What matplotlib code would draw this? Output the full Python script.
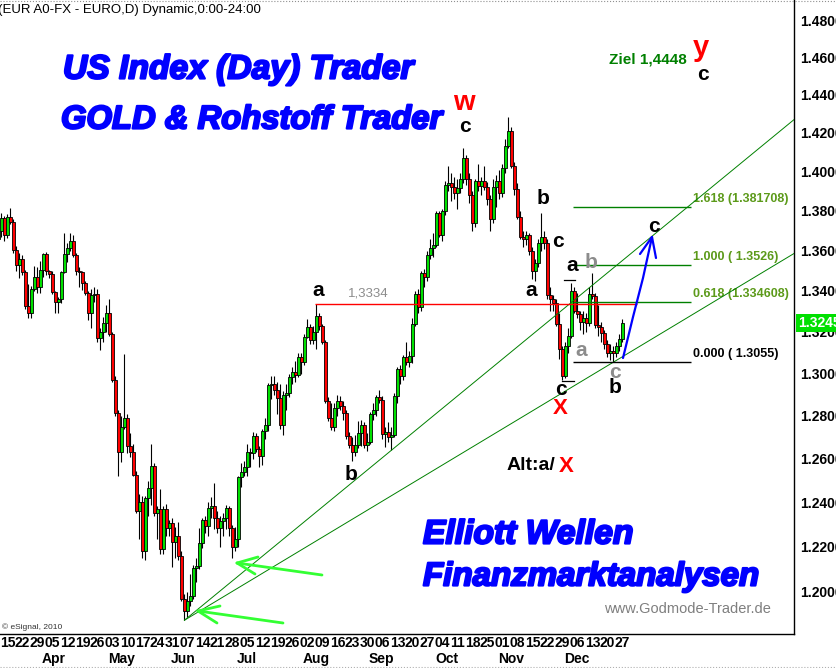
import numpy as np
import pandas as pd
import matplotlib
matplotlib.use("Agg")
from matplotlib import pyplot as plt
from matplotlib.lines import Line2D
from matplotlib.ticker import FixedLocator, FuncFormatter, NullLocator, NullFormatter
import matplotlib.transforms as mtransforms
import matplotlib.patheffects as pe

plt.rcParams["font.family"] = ["Liberation Sans", "DejaVu Sans"]

# EUR/USD Tageskerzen, 11.03. - 28.12.2010
dates = pd.bdate_range("2010-03-11", "2010-12-28")

opens = [
    1.3660, 1.3700, 1.3765, 1.3680, 1.3770, 1.3745, 1.3605, 1.3530, 1.3560, 1.3495,
    1.3325, 1.3290, 1.3410, 1.3470, 1.3420, 1.3505, 1.3585, 1.3500, 1.3485, 1.3395,
    1.3345, 1.3360, 1.3495, 1.3585, 1.3615, 1.3650, 1.3580, 1.3500, 1.3495, 1.3440,
    1.3390, 1.3290, 1.3380, 1.3385, 1.3170, 1.3200, 1.3245, 1.3290, 1.3190, 1.2970,
    1.2815, 1.2630, 1.2750, 1.2790, 1.2660, 1.2630, 1.2525, 1.2360, 1.2400, 1.2180,
    1.2420, 1.2465, 1.2565, 1.2350, 1.2370, 1.2190, 1.2370, 1.2285, 1.2305, 1.2220,
    1.2250, 1.2160, 1.1970, 1.1915, 1.1960, 1.1980, 1.2105, 1.2115, 1.2215, 1.2320,
    1.2295, 1.2375, 1.2385, 1.2330, 1.2285, 1.2315, 1.2330, 1.2375, 1.2285, 1.2200,
    1.2235, 1.2515, 1.2540, 1.2560, 1.2630, 1.2625, 1.2705, 1.2645, 1.2615, 1.2730,
    1.2755, 1.2945, 1.2950, 1.2920, 1.2885, 1.2755, 1.2900, 1.2910, 1.2985, 1.3010,
    1.2995, 1.3080, 1.3055, 1.3175, 1.3225, 1.3160, 1.3200, 1.3280, 1.3230, 1.3150,
    1.2870, 1.2790, 1.2750, 1.2835, 1.2870, 1.2845, 1.2815, 1.2705, 1.2665, 1.2630,
    1.2665, 1.2720, 1.2755, 1.2665, 1.2680, 1.2810, 1.2830, 1.2890, 1.2875, 1.2715,
    1.2725, 1.2700, 1.2710, 1.2895, 1.3020, 1.2990, 1.3080, 1.3055, 1.3085, 1.3240,
    1.3385, 1.3320, 1.3490, 1.3470, 1.3580, 1.3615, 1.3630, 1.3790, 1.3680, 1.3800,
    1.3930, 1.3940, 1.3920, 1.3890, 1.3915, 1.3960, 1.4070, 1.3960, 1.3880, 1.3740,
    1.3950, 1.3925, 1.3950, 1.3920, 1.3860, 1.3760, 1.3920, 1.3950, 1.3890, 1.4020,
    1.4130, 1.4210, 1.4030, 1.3910, 1.3770, 1.3670, 1.3660, 1.3680, 1.3600, 1.3500,
    1.3540, 1.3640, 1.3670, 1.3640, 1.3380, 1.3360, 1.3340, 1.3240, 1.3120, 1.2990,
    1.3130, 1.3180, 1.3400, 1.3300, 1.3285, 1.3250, 1.3270, 1.3245, 1.3385, 1.3375,
    1.3235, 1.3225, 1.3195, 1.3140, 1.3100, 1.3110, 1.3100, 1.3130, 1.3165,
]
highs = [
    1.3720, 1.3790, 1.3775, 1.3785, 1.3815, 1.3760, 1.3625, 1.3590, 1.3580, 1.3505,
    1.3435, 1.3425, 1.3525, 1.3520, 1.3550, 1.3590, 1.3595, 1.3505, 1.3500, 1.3400,
    1.3370, 1.3500, 1.3690, 1.3640, 1.3690, 1.3680, 1.3590, 1.3520, 1.3500, 1.3450,
    1.3400, 1.3410, 1.3420, 1.3410, 1.3220, 1.3275, 1.3330, 1.3360, 1.3200, 1.2990,
    1.2830, 1.2800, 1.3095, 1.2810, 1.2720, 1.2670, 1.2545, 1.2440, 1.2430, 1.2430,
    1.2500, 1.2670, 1.2580, 1.2385, 1.2460, 1.2385, 1.2395, 1.2320, 1.2330, 1.2290,
    1.2310, 1.2180, 1.1990, 1.2000, 1.2080, 1.2120, 1.2150, 1.2285, 1.2330, 1.2340,
    1.2400, 1.2425, 1.2487, 1.2360, 1.2340, 1.2350, 1.2390, 1.2385, 1.2300, 1.2290,
    1.2520, 1.2580, 1.2590, 1.2670, 1.2650, 1.2725, 1.2720, 1.2660, 1.2740, 1.2790,
    1.2955, 1.2990, 1.2990, 1.2960, 1.2950, 1.2915, 1.2950, 1.3000, 1.3030, 1.3060,
    1.3100, 1.3100, 1.3190, 1.3265, 1.3240, 1.3230, 1.3334, 1.3290, 1.3240, 1.3160,
    1.2890, 1.2860, 1.2860, 1.2900, 1.2895, 1.2870, 1.2830, 1.2725, 1.2700, 1.2710,
    1.2775, 1.2780, 1.2770, 1.2720, 1.2820, 1.2860, 1.2900, 1.2920, 1.2895, 1.2750,
    1.2770, 1.2750, 1.2910, 1.3030, 1.3040, 1.3090, 1.3150, 1.3110, 1.3270, 1.3400,
    1.3410, 1.3500, 1.3510, 1.3600, 1.3660, 1.3690, 1.3800, 1.3800, 1.3810, 1.3950,
    1.4030, 1.3990, 1.3970, 1.3960, 1.3990, 1.4120, 1.4085, 1.3990, 1.3900, 1.3960,
    1.4040, 1.3970, 1.4030, 1.3945, 1.3880, 1.3960, 1.3980, 1.4010, 1.4040, 1.4170,
    1.4282, 1.4230, 1.4050, 1.3940, 1.3800, 1.3700, 1.3700, 1.3690, 1.3620, 1.3560,
    1.3660, 1.3790, 1.3700, 1.3660, 1.3420, 1.3380, 1.3360, 1.3290, 1.3130, 1.3150,
    1.3220, 1.3440, 1.3420, 1.3390, 1.3300, 1.3300, 1.3290, 1.3420, 1.3490, 1.3390,
    1.3330, 1.3250, 1.3210, 1.3160, 1.3140, 1.3130, 1.3150, 1.3190, 1.3265,
]
lows = [
    1.3640, 1.3670, 1.3650, 1.3665, 1.3735, 1.3590, 1.3500, 1.3465, 1.3480, 1.3310,
    1.3270, 1.3270, 1.3400, 1.3390, 1.3390, 1.3470, 1.3480, 1.3465, 1.3385, 1.3290,
    1.3290, 1.3340, 1.3490, 1.3545, 1.3600, 1.3570, 1.3480, 1.3420, 1.3405, 1.3380,
    1.3260, 1.3220, 1.3345, 1.3150, 1.3115, 1.3150, 1.3200, 1.3180, 1.2960, 1.2800,
    1.2520, 1.2585, 1.2740, 1.2625, 1.2610, 1.2520, 1.2350, 1.2235, 1.2150, 1.2140,
    1.2340, 1.2390, 1.2340, 1.2235, 1.2170, 1.2170, 1.2250, 1.2250, 1.2110, 1.2150,
    1.2140, 1.1960, 1.1876, 1.1890, 1.1940, 1.1970, 1.2045, 1.2100, 1.2195, 1.2260,
    1.2250, 1.2330, 1.2280, 1.2260, 1.2200, 1.2250, 1.2280, 1.2250, 1.2150, 1.2180,
    1.2200, 1.2470, 1.2520, 1.2520, 1.2560, 1.2600, 1.2630, 1.2560, 1.2570, 1.2690,
    1.2730, 1.2880, 1.2900, 1.2810, 1.2740, 1.2710, 1.2830, 1.2890, 1.2950, 1.2960,
    1.2985, 1.3000, 1.3040, 1.3170, 1.3140, 1.3140, 1.3120, 1.3210, 1.3140, 1.2860,
    1.2775, 1.2735, 1.2730, 1.2800, 1.2830, 1.2780, 1.2690, 1.2650, 1.2590, 1.2615,
    1.2650, 1.2660, 1.2650, 1.2635, 1.2670, 1.2780, 1.2800, 1.2860, 1.2690, 1.2655,
    1.2680, 1.2640, 1.2700, 1.2860, 1.2950, 1.2970, 1.3040, 1.3030, 1.3050, 1.3230,
    1.3290, 1.3300, 1.3420, 1.3450, 1.3560, 1.3570, 1.3620, 1.3670, 1.3650, 1.3780,
    1.3900, 1.3850, 1.3860, 1.3810, 1.3890, 1.3940, 1.3930, 1.3840, 1.3700, 1.3720,
    1.3900, 1.3880, 1.3905, 1.3830, 1.3700, 1.3740, 1.3820, 1.3860, 1.3870, 1.3990,
    1.4120, 1.4020, 1.3880, 1.3760, 1.3660, 1.3620, 1.3630, 1.3580, 1.3460, 1.3450,
    1.3520, 1.3600, 1.3610, 1.3360, 1.3300, 1.3300, 1.3230, 1.3070, 1.2969, 1.2980,
    1.3100, 1.3170, 1.3290, 1.3270, 1.3210, 1.3190, 1.3200, 1.3230, 1.3360, 1.3220,
    1.3180, 1.3150, 1.3120, 1.3080, 1.3065, 1.3055, 1.3080, 1.3110, 1.3150,
]
closes = [
    1.3700, 1.3765, 1.3680, 1.3770, 1.3745, 1.3605, 1.3530, 1.3560, 1.3495, 1.3325,
    1.3290, 1.3410, 1.3470, 1.3420, 1.3505, 1.3585, 1.3500, 1.3485, 1.3395, 1.3345,
    1.3360, 1.3495, 1.3585, 1.3615, 1.3650, 1.3580, 1.3500, 1.3495, 1.3440, 1.3390,
    1.3290, 1.3380, 1.3385, 1.3170, 1.3200, 1.3245, 1.3290, 1.3190, 1.2970, 1.2815,
    1.2630, 1.2750, 1.2790, 1.2660, 1.2630, 1.2525, 1.2360, 1.2400, 1.2180, 1.2420,
    1.2465, 1.2565, 1.2350, 1.2370, 1.2190, 1.2370, 1.2285, 1.2305, 1.2220, 1.2250,
    1.2160, 1.1970, 1.1915, 1.1960, 1.1980, 1.2105, 1.2115, 1.2215, 1.2320, 1.2295,
    1.2375, 1.2385, 1.2330, 1.2285, 1.2315, 1.2330, 1.2375, 1.2285, 1.2200, 1.2235,
    1.2515, 1.2540, 1.2560, 1.2630, 1.2625, 1.2705, 1.2645, 1.2615, 1.2730, 1.2755,
    1.2945, 1.2950, 1.2920, 1.2885, 1.2755, 1.2900, 1.2910, 1.2985, 1.3010, 1.2995,
    1.3080, 1.3055, 1.3175, 1.3225, 1.3160, 1.3200, 1.3280, 1.3230, 1.3150, 1.2870,
    1.2790, 1.2750, 1.2835, 1.2870, 1.2845, 1.2815, 1.2705, 1.2665, 1.2630, 1.2665,
    1.2720, 1.2755, 1.2665, 1.2680, 1.2810, 1.2830, 1.2890, 1.2875, 1.2715, 1.2725,
    1.2700, 1.2710, 1.2895, 1.3020, 1.2990, 1.3080, 1.3055, 1.3085, 1.3240, 1.3385,
    1.3320, 1.3490, 1.3470, 1.3580, 1.3615, 1.3630, 1.3790, 1.3680, 1.3800, 1.3930,
    1.3940, 1.3920, 1.3890, 1.3915, 1.3960, 1.4070, 1.3960, 1.3880, 1.3740, 1.3950,
    1.3925, 1.3950, 1.3920, 1.3860, 1.3760, 1.3920, 1.3950, 1.3890, 1.4020, 1.4130,
    1.4210, 1.4030, 1.3910, 1.3770, 1.3670, 1.3660, 1.3680, 1.3600, 1.3500, 1.3540,
    1.3640, 1.3670, 1.3640, 1.3380, 1.3360, 1.3340, 1.3240, 1.3120, 1.2990, 1.3130,
    1.3180, 1.3400, 1.3300, 1.3285, 1.3250, 1.3270, 1.3245, 1.3385, 1.3375, 1.3235,
    1.3225, 1.3195, 1.3140, 1.3100, 1.3110, 1.3100, 1.3130, 1.3165, 1.3245,
]

price_ticks = [1.20, 1.22, 1.24, 1.26, 1.28, 1.30, 1.32, 1.34, 1.36, 1.38,
               1.40, 1.42, 1.44, 1.46, 1.48]
last_price = 1.3245
level_a = 1.3334
fib_levels = [1.381708, 1.3526, 1.334608, 1.3055]
fib_texts = ["1.618 (1.381708)", "1.000 ( 1.3526)", "0.618 (1.334608)", "0.000 ( 1.3055)"]
# zweiter Stuetzpunkt der beiden Trendlinien (ab Juni-Tief)
trend_anchor_dates = ["2010-09-10", "2010-12-23"]

W, H = 837, 668          # Bildgroesse in Pixel
AX_W, AX_H = 794, 634    # Chartbereich


def px(x, y):
    """Pixelposition im Chart -> Achsenkoordinaten"""
    return x / AX_W, 1 - y / AX_H


o = np.array(opens)
h = np.array(highs)
l = np.array(lows)
c = np.array(closes)
idx = np.arange(len(dates))

fig = plt.figure(figsize=(W / 100, H / 100), dpi=100)
ax = fig.add_axes([0, 1 - AX_H / H, AX_W / W, AX_H / H])
ax.set_yscale("log")
ax.set_ylim(1.1816, 1.4909)
ax.set_xlim(0.5, (AX_W + 1.5) / 3)

# Kerzen
up = c >= o
body_col = np.where(up, "#00e000", "#ff0000")
ax.vlines(idx, l, h, color="black", lw=0.8, zorder=2)
ax.bar(idx, np.maximum(np.abs(c - o), 0.0003), bottom=np.minimum(o, c), width=0.8,
       color=body_col, edgecolor="black", linewidth=0.6, zorder=3)

# Achsen
ax.yaxis.set_major_locator(FixedLocator(price_ticks))
ax.yaxis.set_major_formatter(FuncFormatter(lambda v, _: f"{v:.4f}"))
ax.yaxis.set_minor_locator(NullLocator())
ax.yaxis.set_minor_formatter(NullFormatter())
ax.yaxis.tick_right()
ax.tick_params(axis="y", length=0, pad=4.3, labelsize=10)
for lab in ax.get_yticklabels():
    lab.set_fontweight("bold")
ax.set_xticks([])
ax.spines["left"].set_visible(False)
ax.spines["top"].set_visible(False)
ax.spines["right"].set_linewidth(1.0)
ax.spines["bottom"].set_linewidth(1.0)

# Datumsachse
xt = ax.get_xaxis_transform()
prev_month = dates[0].month
for i, d in enumerate(dates):
    if d.dayofweek == 0:
        ax.text(i + 1, -0.0142, f"{d.day:02d}", transform=xt, ha="center", va="center",
                fontsize=10, fontweight="bold", clip_on=False)
    if d.month != prev_month:
        ax.text(i - 0.5, -0.0394, d.strftime("%b"), transform=xt, ha="left", va="center",
                fontsize=10, fontweight="bold", clip_on=False)
    prev_month = d.month

# letzter Kurs
yt = mtransforms.blended_transform_factory(ax.transAxes, ax.transData)
ax.text(1.005, last_price, f"{last_price:.4f}", transform=yt, ha="left", va="center",
        color="white", fontsize=10, fontweight="bold", zorder=10, clip_on=False,
        bbox=dict(boxstyle="square,pad=0.15", fc="#00e000", ec="none"))

# Trendlinien vom Juni-Tief
i0 = int(np.argmin(l))
x_end = ax.get_xlim()[1]
for d in trend_anchor_dates:
    i1 = dates.get_loc(pd.Timestamp(d))
    slope = (np.log(l[i1]) - np.log(l[i0])) / (i1 - i0)
    y_end = np.exp(np.log(l[i0]) + slope * (x_end - i0))
    ax.plot([i0, x_end], [l[i0], y_end], color="#008000", lw=0.7, zorder=4)

# 1,3334 Linie
ax.hlines(level_a, 105.5, 212.8, color="#ff0000", lw=1.0, zorder=4)
ax.text(*px(368, 293), "1,3334", transform=ax.transAxes, ha="center", va="center",
        color="#8c8c8c", fontsize=9.5)

# Fibonacci
for lev, txt in zip(fib_levels, fib_texts):
    col = "black" if lev == fib_levels[-1] else "#008000"
    tcol = "black" if lev == fib_levels[-1] else "#5c9a1a"
    ax.hlines(lev, 191.5, 230.8, color=col, lw=1.0, zorder=4)
    ax.annotate(txt, (231.6, lev), xytext=(0, 6), textcoords="offset points",
                ha="left", va="center", color=tcol, fontsize=9, fontweight="bold")

# Markierungen Hoch/Tief
ax.plot([188.5, 192.2], [1.3454, 1.3454], color="black", lw=0.9, zorder=4)
ax.plot([187.9, 191.8], [1.2965, 1.2965], color="black", lw=0.9, zorder=4)

# Pfeile
def arrow(points, arms, color, lw):
    xs, ys = zip(*[px(*p) for p in points])
    ax.plot(xs, ys, color=color, lw=lw, transform=ax.transAxes, zorder=6,
            solid_capstyle="round")
    tip = points[-1]
    for a in arms:
        xs, ys = zip(px(*tip), px(*a))
        ax.plot(xs, ys, color=color, lw=lw, transform=ax.transAxes, zorder=6,
                solid_capstyle="round")

arrow([(283, 623), (198, 611)], [(220, 606), (217, 623)], "#33ff33", 2.0)
arrow([(322, 575), (237, 563)], [(258, 557), (255, 574)], "#33ff33", 2.0)
arrow([(623, 358), (633, 317), (643, 278), (652, 237)], [(640, 254), (656, 258)], "#0000ff", 1.6)

# Wellenbeschriftung
gray = "#8c8c8c"
labels = [
    ("a", 318, 290, "black", 15), ("b", 351, 475, "black", 15),
    ("w", 464, 103, "#ff0000", 20), ("c", 465, 127, "black", 15),
    ("y", 701, 48, "#ff0000", 21), ("c", 703, 75, "black", 15),
    ("b", 543, 198, "black", 15), ("c", 558, 241, "black", 15),
    ("a", 572, 265, "black", 15), ("b", 591, 262, gray, 15),
    ("a", 531, 290, "black", 15), ("a", 581, 350, gray, 15),
    ("c", 561, 390, "black", 15), ("X", 560, 409, "#ff0000", 16),
    ("c", 615, 372, gray, 15), ("b", 615, 388, "black", 15),
    ("c", 654, 227, "black", 15), ("X", 566, 466, "#ff0000", 16),
]
for t, x, y, col, fs in labels:
    ax.text(*px(x, y), t, transform=ax.transAxes, ha="center", va="center",
            color=col, fontsize=fs, fontweight="bold", zorder=7)
ax.text(*px(555, 466), "Alt:a/", transform=ax.transAxes, ha="right", va="center",
        color="black", fontsize=14, fontweight="bold")
ax.text(*px(609, 60), "Ziel 1,4448", transform=ax.transAxes, ha="left", va="center",
        color="#008000", fontsize=11, fontweight="bold")

# Werbetexte
heavy = [pe.withStroke(linewidth=1.6, foreground="#0000ff")]
for t, x, y, fs in [("US Index (Day) Trader", 63, 70, 24.2),
                    ("GOLD & Rohstoff Trader", 61, 120, 23.6),
                    ("Elliott Wellen", 423, 535, 24.2),
                    ("Finanzmarktanalysen", 423, 577, 23.8)]:
    ax.text(*px(x, y), t, transform=ax.transAxes, ha="left", va="center",
            color="#0000ff", fontsize=fs, fontweight="bold", fontstyle="italic",
            path_effects=heavy, zorder=8)
ax.text(*px(687, 609), "www.Godmode-Trader.de", transform=ax.transAxes, ha="center",
        va="center", color="#7f7f7f", fontsize=10.5)
ax.text(*px(2, 627), "\u00a9 eSignal, 2010", transform=ax.transAxes, ha="left",
        va="center", color="#333333", fontsize=6)

fig.text(-0.002, 1 - 10 / H, "(EUR A0-FX - EURO,D) Dynamic,0:00-24:00", ha="left",
         va="center", fontsize=9.5)
fig.add_artist(Line2D([0, 1], [1 - 0.5 / H, 1 - 0.5 / H], color="#909090", lw=0.8, ls=":"))
fig.add_artist(Line2D([0, 1], [1.5 / H, 1.5 / H], color="#b0b0b0", lw=0.8, ls=":"))

fig.savefig("out.png", dpi=100)
